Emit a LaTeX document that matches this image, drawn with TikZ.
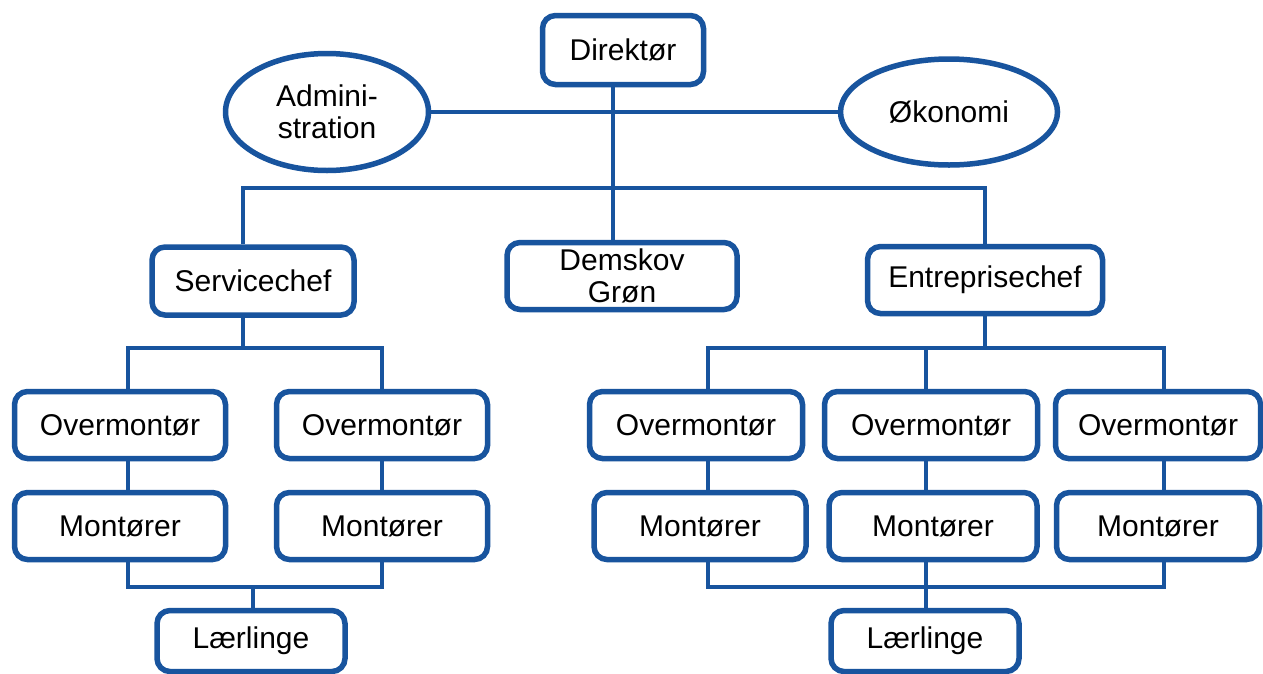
\documentclass[tikz,border=0pt]{standalone}
\usepackage{fontspec}
\setmainfont{Liberation Sans}
\usetikzlibrary{shapes.geometric}
\definecolor{orgblue}{RGB}{24,84,158}
\begin{document}
\begin{tikzpicture}[x=1pt,y=-1pt,
  box/.style={draw=orgblue,line width=5.5pt,rounded corners=13pt,fill=white,
    align=center,inner sep=2pt,font=\fontsize{30}{32}\selectfont},
  oval/.style={draw=orgblue,line width=5.5pt,ellipse,fill=white,
    align=center,inner sep=0pt,font=\fontsize{30}{32}\selectfont},
  conn/.style={draw=orgblue,line width=3.5pt}]
\fill[white] (0,0) rectangle (1263,673);
\useasboundingbox (0,0) rectangle (1263,673);
% coordinates for line positions
\coordinate (xT) at (613,0);
\coordinate (xS) at (243,0);
\coordinate (xE) at (985,0);
\coordinate (xL1) at (128,0);
\coordinate (xL2) at (382,0);
\coordinate (xLc) at (253,0);
\coordinate (xR1) at (708,0);
\coordinate (xR2) at (926,0);
\coordinate (xR3) at (1164,0);
\coordinate (yB0) at (0,188);
\coordinate (yB1) at (0,348);
\coordinate (yB2) at (0,587);

\node[box,minimum width=161pt,minimum height=69pt] (dir) at (623,50) {Direktør};
\node[oval,minimum width=203pt,minimum height=117pt] (adm) at (327,112) {Admini-\\stration};
\node[oval,minimum width=217pt,minimum height=106pt] (oko) at (949,112) {Økonomi};
\node[box,minimum width=202pt,minimum height=68pt] (svc) at (253,281) {Servicechef};
\node[box,minimum width=230pt,minimum height=67pt] (dem) at (622,276) {Demskov\\Grøn};
\node[box,minimum width=235pt,minimum height=67pt] (ent) at (985,280) {Entreprisechef};

\node[box,minimum width=211pt,minimum height=67pt] (ol1) at (120,425) {Overmontør};
\node[box,minimum width=211pt,minimum height=67pt] (ol2) at (382,425) {Overmontør};
\node[box,minimum width=211pt,minimum height=67pt] (ml1) at (120,526) {Montører};
\node[box,minimum width=211pt,minimum height=67pt] (ml2) at (382,526) {Montører};
\node[box,minimum width=188pt,minimum height=61pt] (lr1) at (251,641) {Lærlinge};

\node[box,minimum width=213pt,minimum height=67pt] (or1) at (696,425) {Overmontør};
\node[box,minimum width=213pt,minimum height=67pt] (or2) at (931,425) {Overmontør};
\node[box,minimum width=205pt,minimum height=67pt] (or3) at (1158,425) {Overmontør};
\node[box,minimum width=212pt,minimum height=67pt] (mr1) at (700,526) {Montører};
\node[box,minimum width=208pt,minimum height=67pt] (mr2) at (933,526) {Montører};
\node[box,minimum width=203pt,minimum height=67pt] (mr3) at (1158,526) {Montører};
\node[box,minimum width=188pt,minimum height=61pt] (lr2) at (925,641) {Lærlinge};

% top
\draw[conn] (dir.south -| xT) -- (dem.north -| xT);
\draw[conn] (adm.east) -- (oko.west);
\draw[conn] (svc.north -| xS) -- (xS |- yB0) -- (xE |- yB0) -- (ent.north -| xE);
% left group
\draw[conn] (svc.south -| xS) -- (xS |- yB1);
\draw[conn] (ol1.north -| xL1) -- (xL1 |- yB1) -- (xL2 |- yB1) -- (ol2.north -| xL2);
\draw[conn] (ol1.south -| xL1) -- (ml1.north -| xL1);
\draw[conn] (ol2.south -| xL2) -- (ml2.north -| xL2);
\draw[conn] (ml1.south -| xL1) -- (xL1 |- yB2) -- (xL2 |- yB2) -- (ml2.south -| xL2);
\draw[conn] (lr1.north -| xLc) -- (xLc |- yB2);
% right group
\draw[conn] (ent.south -| xE) -- (xE |- yB1);
\draw[conn] (or1.north -| xR1) -- (xR1 |- yB1) -- (xR3 |- yB1) -- (or3.north -| xR3);
\draw[conn] (or2.north -| xR2) -- (xR2 |- yB1);
\draw[conn] (or1.south -| xR1) -- (mr1.north -| xR1);
\draw[conn] (or2.south -| xR2) -- (mr2.north -| xR2);
\draw[conn] (or3.south -| xR3) -- (mr3.north -| xR3);
\draw[conn] (mr1.south -| xR1) -- (xR1 |- yB2) -- (xR3 |- yB2) -- (mr3.south -| xR3);
\draw[conn] (mr2.south -| xR2) -- (xR2 |- yB2);
\draw[conn] (lr2.north -| xR2) -- (xR2 |- yB2);
\end{tikzpicture}
\end{document}
